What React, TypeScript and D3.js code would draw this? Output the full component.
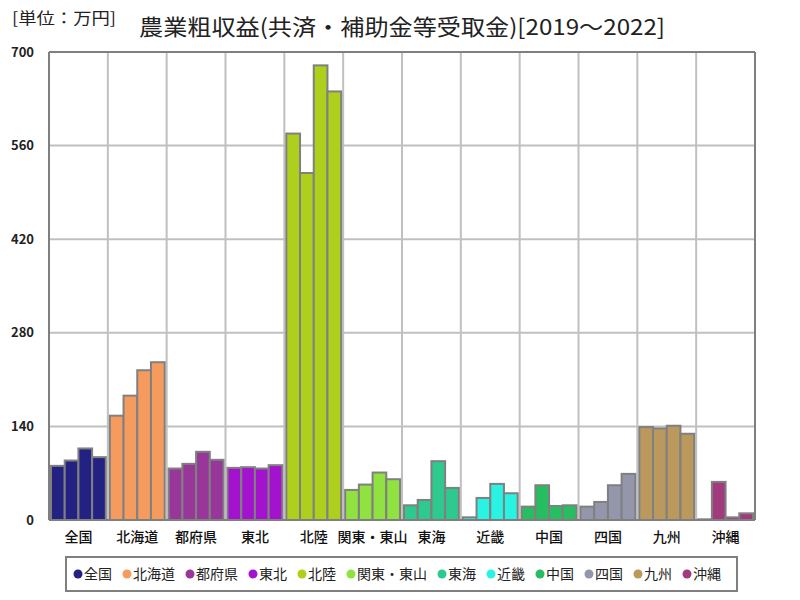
import React from "react";
import * as d3 from "d3";

const regions = ["全国", "北海道", "都府県", "東北", "北陸", "関東・東山", "東海", "近畿", "中国", "四国", "九州", "沖縄"];
const years = ["2019", "2020", "2021", "2022"];
const colors = ["#232283", "#f59b5d", "#98369a", "#a313cd", "#afcf1d", "#8fe23f", "#2ec98f", "#29f3e3", "#27bd61", "#9496ab", "#bb985b", "#a23a7e"];
const values2019 = [81, 156, 77, 78, 578, 45, 22, 4, 20, 20, 139, 1];
const values2020 = [89, 186, 84, 79, 519, 53, 30, 33, 52, 27, 137, 57];
const values2021 = [107, 224, 102, 77, 680, 71, 88, 54, 21, 52, 141, 4];
const values2022 = [94, 236, 90, 82, 641, 61, 48, 40, 22, 69, 129, 10];
const yTicks = [0, 140, 280, 420, 560, 700];
const title = "農業粗収益(共済・補助金等受取金)[2019～2022]";
const unitLabel = "[単位：万円]";

const series = [values2019, values2020, values2021, values2022];

export default function App() {
  const W = 800, H = 600;
  const left = 49, right = 755, top = 52, bottom = 520;
  const x = d3.scaleBand<string>().domain(regions).range([left, right]).paddingInner(0).paddingOuter(0);
  const xi = d3.scaleBand<string>().domain(years).range([2, x.bandwidth() - 2]).padding(0);
  const y = d3.scaleLinear().domain([0, 700]).range([bottom, top]);
  const font = "'Noto Sans CJK JP', 'Noto Sans', sans-serif";
  const grid = "#c0c0c0";
  const axis = "#7f7f7f";

  // legend layout
  const fs = 14;
  const items = regions.map((r) => ({ r, w: 12 + r.length * fs + 9 }));
  let cx = 73;
  const legendPos = items.map((it) => { const p = cx; cx += it.w; return p; });

  return (
    <svg width={W} height={H} style={{ position: "absolute", left: 0, top: 0, background: "#fff" }}>
      <rect x={0} y={0} width={W} height={H} fill="#fff" />
      <text x={12} y={24} fontFamily={font} fontSize={16} fill="#222" textLength={104} lengthAdjust="spacingAndGlyphs">{unitLabel}</text>
      <text x={139} y={35} fontFamily={font} fontSize={22} fill="#222" textLength={526} lengthAdjust="spacingAndGlyphs">{title}</text>
      {/* horizontal grid */}
      {yTicks.map((t) => (
        <line key={"h" + t} x1={left} x2={right} y1={y(t)} y2={y(t)} stroke={grid} strokeWidth={2} />
      ))}
      {/* vertical grid */}
      {regions.map((r) => (
        <line key={"v" + r} x1={x(r)!} x2={x(r)!} y1={top} y2={bottom} stroke={grid} strokeWidth={2} />
      ))}
      {/* bars */}
      {regions.map((r, gi) => (
        <g key={"g" + r}>
          {years.map((yr, si) => {
            const v = series[si][gi];
            const x0 = x(r)! + xi(yr)!;
            return (
              <rect key={yr} x={x0} y={y(v)} width={xi.bandwidth()} height={bottom - y(v)} fill={colors[gi]} stroke="#808080" strokeWidth={2} />
            );
          })}
        </g>
      ))}
      {/* frame */}
      <line x1={left} x2={right} y1={top} y2={top} stroke={axis} strokeWidth={2} />
      <line x1={right} x2={right} y1={top} y2={bottom} stroke={axis} strokeWidth={2} />
      <line x1={left} x2={left} y1={top} y2={bottom} stroke={axis} strokeWidth={2} />
      <line x1={left} x2={right} y1={bottom} y2={bottom} stroke={axis} strokeWidth={2} />
      {/* y tick labels */}
      {yTicks.map((t) => (
        <text key={"t" + t} x={34} y={y(t)} dy="0.35em" textAnchor="end" fontFamily={font} fontSize={13} fontWeight="bold" fill="#222">{t}</text>
      ))}
      {/* x labels */}
      {regions.map((r) => (
        <text key={"l" + r} x={x(r)! + x.bandwidth() / 2} y={537} dy="0.35em" textAnchor="middle" fontFamily={font} fontSize={14} fontWeight={500} fill="#111">{r}</text>
      ))}
      {/* legend */}
      <rect x={66} y={557} width={671} height={34} fill="#fff" stroke={axis} strokeWidth={2} />
      {items.map((it, i) => (
        <g key={"lg" + it.r}>
          <circle cx={legendPos[i] + 5} cy={574} r={4.5} fill={colors[i]} />
          <text x={legendPos[i] + 11} y={574} dy="0.35em" fontFamily={font} fontSize={fs} fill="#222">{it.r}</text>
        </g>
      ))}
    </svg>
  );
}
